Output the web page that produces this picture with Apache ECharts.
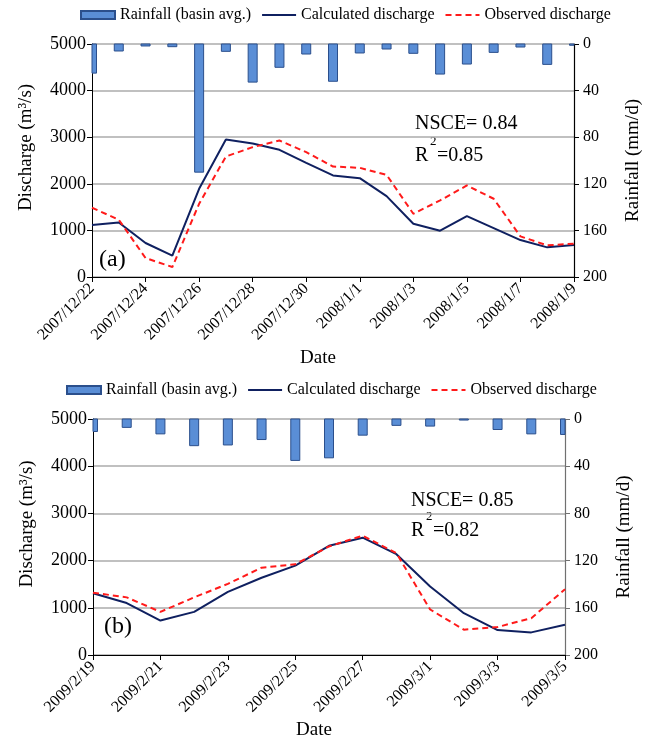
<!DOCTYPE html>
<html>
<head>
<meta charset="utf-8">
<script src="https://cdn.jsdelivr.net/npm/echarts@6/dist/echarts.min.js"></script>
<style>
  html, body { margin: 0; padding: 0; background: #fff; }
  #main { width: 654px; height: 746px; }
</style>
</head>
<body>
<div id="main"></div>
<script>
// panel (a) 2007/12/22 - 2008/1/9
var datesA = ['2007/12/22', '2007/12/23', '2007/12/24', '2007/12/25', '2007/12/26', '2007/12/27',
  '2007/12/28', '2007/12/29', '2007/12/30', '2007/12/31', '2008/1/1', '2008/1/2', '2008/1/3',
  '2008/1/4', '2008/1/5', '2008/1/6', '2008/1/7', '2008/1/8', '2008/1/9'];
var rainA = [25, 6, 1.7, 2.3, 110, 6.3, 32.7, 20, 8.6, 32, 7.7, 4.3, 8, 25.8, 17.2, 7.2, 2.6, 17.5, 1.1];
var calcA = [1114, 1171, 729, 457, 1893, 2950, 2864, 2729, 2450, 2179, 2121, 1736, 1143, 993, 1307, 1050, 793, 636, 686];
var obsA = [1486, 1229, 407, 214, 1571, 2586, 2786, 2929, 2679, 2371, 2343, 2193, 1357, 1643, 1964, 1679, 871, 679, 714];

// panel (b) 2009/2/19 - 2009/3/5
var datesB = ['2009/2/19', '2009/2/20', '2009/2/21', '2009/2/22', '2009/2/23', '2009/2/24', '2009/2/25',
  '2009/2/26', '2009/2/27', '2009/2/28', '2009/3/1', '2009/3/2', '2009/3/3', '2009/3/4', '2009/3/5'];
var rainB = [10.6, 7.1, 12.6, 22.6, 22, 17.4, 35.1, 32.9, 13.7, 5.4, 6, 0.9, 8.9, 12.6, 13.1];
var calcB = [1307, 1100, 729, 914, 1336, 1636, 1893, 2314, 2486, 2136, 1450, 886, 529, 479, 643];
var obsB = [1321, 1221, 914, 1221, 1507, 1850, 1921, 2300, 2529, 2157, 964, 536, 593, 779, 1393];

var FONT = "'Liberation Serif', 'Times New Roman', serif";
var names = ['Rainfall (basin avg.)', 'Calculated discharge', 'Observed discharge'];
var plain = function (v) { return String(v); };

function xAxisOf(grid, dates, gap) {
  return {
    type: 'category', gridIndex: grid, data: dates, boundaryGap: false,
    name: 'Date', nameLocation: 'middle', nameGap: gap,
    nameTextStyle: { fontFamily: FONT, fontSize: 19, color: '#000', padding: [0, 30, 0, 0] },
    axisLine: { lineStyle: { color: '#000', width: 1 } },
    axisTick: { interval: 1, length: 5, lineStyle: { color: '#000' } },
    axisLabel: { interval: 1, rotate: 45, margin: 9, fontFamily: FONT, fontSize: 16, color: '#000' },
    splitLine: { show: false }
  };
}

function qAxisOf(grid) {
  return {
    type: 'value', gridIndex: grid, min: 0, max: 5000, interval: 1000,
    name: 'Discharge (m³/s)', nameLocation: 'middle', nameGap: 56, nameRotate: 90,
    nameTextStyle: { fontFamily: FONT, fontSize: 19, color: '#000', padding: [0, 0, 0, 26] },
    axisLine: { show: true, lineStyle: { color: '#000' } },
    axisTick: { show: true, length: 5, lineStyle: { color: '#000' } },
    axisLabel: { margin: 6, fontFamily: FONT, fontSize: 18, color: '#000', formatter: plain },
    splitLine: { lineStyle: { color: '#ababab', width: 1.5 } }
  };
}

function rAxisOf(grid, lineColor) {
  return {
    type: 'value', gridIndex: grid, position: 'right', inverse: true, min: 0, max: 200, interval: 40,
    name: 'Rainfall (mm/d)', nameLocation: 'middle', nameGap: 50, nameRotate: 90,
    nameTextStyle: { fontFamily: FONT, fontSize: 19, color: '#000' },
    axisLine: { show: true, lineStyle: { color: lineColor, width: 1.2 } },
    axisTick: { show: true, length: 5, lineStyle: { color: lineColor } },
    axisLabel: { margin: 9, fontFamily: FONT, fontSize: 16, color: '#000', formatter: plain },
    splitLine: { show: false }
  };
}

function legendOf(left, top) {
  return {
    left: left, top: top, padding: 0, itemWidth: 34, itemHeight: 8, itemGap: 10,
    textStyle: { fontFamily: FONT, fontSize: 16, color: '#000' },
    data: [
      { name: names[0], icon: 'rect' },
      { name: names[1], itemStyle: { opacity: 0 } },
      { name: names[2], itemStyle: { opacity: 0 } }
    ]
  };
}

// rain bars hang from the top of the inverted axis, clipped to the plot area
function renderRain(params, api) {
  var i = api.value(0);
  var p0 = api.coord([i, 0]);
  var p1 = api.coord([i, api.value(1)]);
  var w = 9;
  var cs = params.coordSys;
  var rect = echarts.graphic.clipRectByRect(
    { x: p0[0] - w / 2, y: p0[1], width: w, height: p1[1] - p0[1] },
    { x: cs.x, y: cs.y, width: cs.width, height: cs.height }
  );
  if (!rect) return;
  return { type: 'rect', shape: rect, style: api.style() };
}

function seriesOf(panel, rain, calc, obs) {
  return [
    { name: names[0], type: 'custom', xAxisIndex: panel, yAxisIndex: panel * 2 + 1,
      data: rain.map(function (v, i) { return [i, v]; }),
      encode: { x: 0, y: 1 }, renderItem: renderRain,
      itemStyle: { color: '#5a8ed6', borderColor: '#2b4f8c', borderWidth: 1 } },
    { name: names[1], type: 'line', xAxisIndex: panel, yAxisIndex: panel * 2, data: calc,
      symbol: 'none', lineStyle: { color: '#0f2060', width: 2 }, itemStyle: { color: '#0f2060' } },
    { name: names[2], type: 'line', xAxisIndex: panel, yAxisIndex: panel * 2, data: obs,
      symbol: 'none', lineStyle: { color: '#ff1a1a', width: 2, type: [6, 4] }, itemStyle: { color: '#ff1a1a' } }
  ];
}

function txt(x, y, s, size) {
  return { type: 'text', left: x, top: y,
    style: { text: s, font: size + 'px ' + FONT, fill: '#000' } };
}

var chart = echarts.init(document.getElementById('main'));
chart.setOption({
  animation: false,
  backgroundColor: '#fff',
  legend: [legendOf(80, 7), legendOf(66, 382)],
  grid: [
    { left: 92, right: 80, top: 44, height: 233 },
    { left: 93, right: 89, top: 419, height: 236 }
  ],
  xAxis: [xAxisOf(0, datesA, 72), xAxisOf(1, datesB, 66)],
  yAxis: [qAxisOf(0), rAxisOf(0, '#000'), qAxisOf(1), rAxisOf(1, '#707070')],
  series: seriesOf(0, rainA, calcA, obsA).concat(seriesOf(1, rainB, calcB, obsB)),
  graphic: [
    txt(415, 114, 'NSCE= 0.84', 20),
    txt(415, 146, 'R', 20),
    txt(430, 135, '2', 13),
    txt(437, 146, '=0.85', 20),
    txt(99, 248, '(a)', 24),
    txt(411, 491, 'NSCE= 0.85', 20),
    txt(411, 521, 'R', 20),
    txt(426, 510, '2', 13),
    txt(433, 521, '=0.82', 20),
    txt(104, 615, '(b)', 24)
  ]
});
</script>
</body>
</html>
